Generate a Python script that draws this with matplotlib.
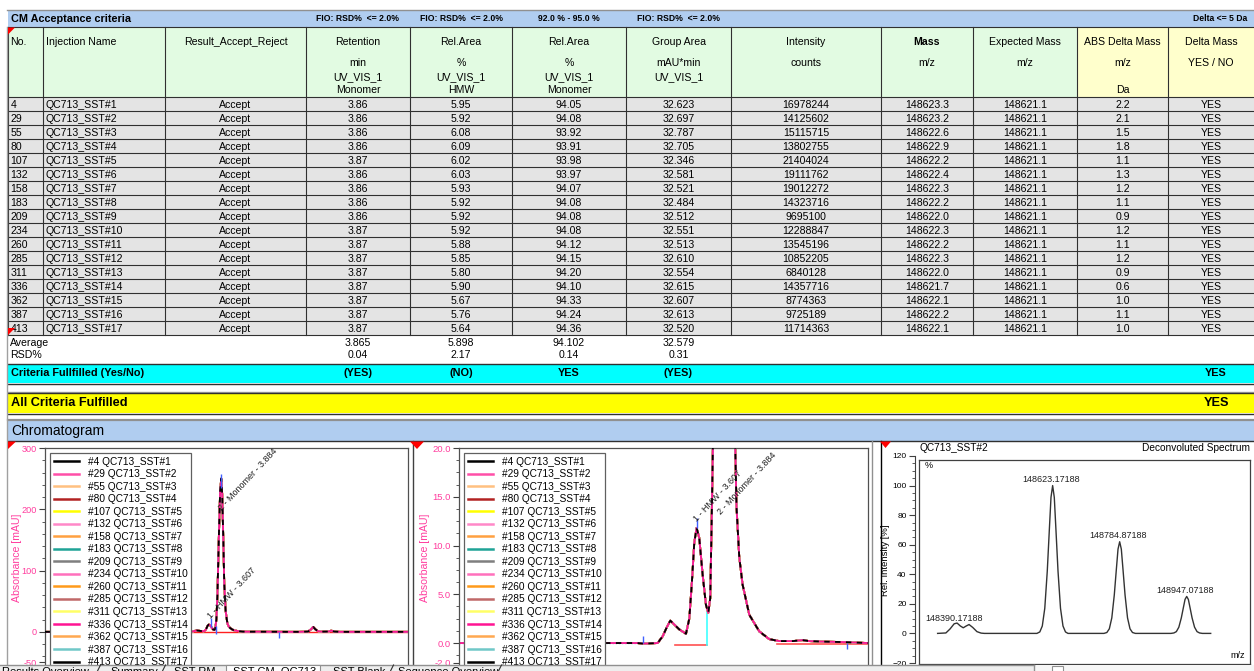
import matplotlib
matplotlib.use("Agg")
import matplotlib.pyplot as plt
from matplotlib.patches import Rectangle, Polygon
from matplotlib.lines import Line2D
from matplotlib.ticker import MultipleLocator, FixedLocator, FormatStrFormatter

plt.rcParams['font.family'] = ['Liberation Sans', 'DejaVu Sans']

# ----------------------------------------------------------------- data
inj_no = [4, 29, 55, 80, 107, 132, 158, 183, 209, 234, 260, 285, 311, 336, 362, 387, 413]
inj_name = ['QC713_SST#%d' % k for k in range(1, 18)]
result = ['Accept'] * 17
retention = [3.86, 3.86, 3.86, 3.86, 3.87, 3.86, 3.86, 3.86, 3.86, 3.87, 3.87, 3.87, 3.87, 3.87, 3.87, 3.87, 3.87]
rel_hmw = [5.95, 5.92, 6.08, 6.09, 6.02, 6.03, 5.93, 5.92, 5.92, 5.92, 5.88, 5.85, 5.80, 5.90, 5.67, 5.76, 5.64]
rel_mono = [94.05, 94.08, 93.92, 93.91, 93.98, 93.97, 94.07, 94.08, 94.08, 94.08, 94.12, 94.15, 94.20, 94.10, 94.33, 94.24, 94.36]
group_area = [32.623, 32.697, 32.787, 32.705, 32.346, 32.581, 32.521, 32.484, 32.512, 32.551, 32.513, 32.610, 32.554, 32.615, 32.607, 32.613, 32.520]
intensity = [16978244, 14125602, 15115715, 13802755, 21404024, 19111762, 19012272, 14323716, 9695100, 12288847, 13545196, 10852205, 6840128, 14357716, 8774363, 9725189, 11714363]
mass = [148623.3, 148623.2, 148622.6, 148622.9, 148622.2, 148622.4, 148622.3, 148622.2, 148622.0, 148622.3, 148622.2, 148622.3, 148622.0, 148621.7, 148622.1, 148622.2, 148622.1]
expected_mass = [148621.1] * 17
abs_delta = [2.2, 2.1, 1.5, 1.8, 1.1, 1.3, 1.2, 1.1, 0.9, 1.2, 1.1, 1.2, 0.9, 0.6, 1.0, 1.1, 1.0]
delta_ok = ['YES'] * 17

avg_vals = ['3.865', '5.898', '94.102', '32.579']
rsd_vals = ['0.04', '2.17', '0.14', '0.31']
crit_vals = ['(YES)', '(NO)', 'YES', '(YES)']
criteria_labels = ['FIO: RSD%  <= 2.0%', 'FIO: RSD%  <= 2.0%', '92.0 % - 95.0 %', 'FIO: RSD%  <= 2.0%']

header_lines = [
    ['No.'], ['Injection Name'], ['Result_Accept_Reject'],
    ['Retention', 'min', 'UV_VIS_1', 'Monomer'],
    ['Rel.Area', '%', 'UV_VIS_1', 'HMW'],
    ['Rel.Area', '%', 'UV_VIS_1', 'Monomer'],
    ['Group Area', 'mAU*min', 'UV_VIS_1'],
    ['Intensity', 'counts'],
    ['Mass', 'm/z'],
    ['Expected Mass', 'm/z'],
    ['ABS Delta Mass', 'm/z', '', 'Da'],
    ['Delta Mass', 'YES / NO'],
]

chrom_time = [0.00, 1.00, 2.00, 3.00, 3.05, 3.10, 3.21, 3.262, 3.303, 3.340, 3.381, 3.432, 3.501,
              3.535, 3.562, 3.586, 3.610, 3.637, 3.672, 3.706, 3.730, 3.750, 3.767, 3.777, 3.800,
              3.830, 3.860, 3.884, 3.905, 3.930, 3.950, 3.980, 4.007, 4.020, 4.048, 4.082, 4.151,
              4.253, 4.356, 4.458, 4.600, 4.696, 4.766, 4.900, 5.105, 5.370, 5.60, 5.80, 5.86,
              5.91, 5.96, 6.02, 6.10, 6.25, 6.31, 6.37, 6.50, 7.00, 8.00]
chrom_abs = [0.0, 0.0, 0.0, 0.0, -0.05, -0.05, 0.0, 0.7, 1.6, 2.3, 1.9, 1.4, 0.95,
             2.5, 6.3, 10.3, 11.8, 10.8, 7.0, 3.9, 3.1, 4.6, 13.9, 20.0, 60.0,
             150.0, 230.0, 250.0, 225.0, 150.0, 80.0, 35.0, 20.0, 13.9, 8.8, 6.0, 2.9,
             1.2, 0.4, 0.2, 0.2, 0.3, 0.2, 0.15, 0.1, 0.0, 0.0, 0.5, 4.0,
             8.0, 4.0, 1.0, 0.3, 0.5, 2.0, 0.5, 0.0, 0.0, 0.0]
trace_colors = ['#000000', '#ff4fa8', '#ffc080', '#b22222', '#ffff00', '#ff88c8', '#ffa040',
                '#1fa396', '#7f7f7f', '#ff70bc', '#ff9a1a', '#c06868', '#ffff66', '#ff1493',
                '#ffa850', '#70c8c8', '#000000']
legend_labels = ['#%d %s' % (n, s) for n, s in zip(inj_no, inj_name)]
peak_names = ['1 - HMW - 3.607', '2 - Monomer - 3.884']
peak_label_left = [(3.70, 19.0), (3.94, 195.0)]
peak_label_mid = [(3.63, 12.3), (3.875, 13.0)]
marker_left_t = [3.65, 3.76, 3.88, 5.15]
marker_left_lo = [8, -3, 235, -10]
marker_left_hi = [23, 9, 258, 0]
marker_mid_t = [3.059, 3.61, 5.153]
marker_mid_lo = [0.0, 11.8, -0.6]
marker_mid_hi = [0.7, 12.8, 0.0]

# deconvoluted spectrum
spec_mz = [148345, 148365, 148375, 148385, 148392, 148400, 148407, 148414, 148421, 148430, 148440, 148450, 148458,
           148585, 148592, 148598, 148604, 148610, 148615, 148619, 148623, 148627, 148631, 148636, 148642, 148648, 148654, 148660,
           148747, 148754, 148760, 148766, 148772, 148777, 148781, 148785, 148789, 148793, 148798, 148804, 148810, 148816, 148823,
           148909, 148916, 148922, 148928, 148934, 148939, 148943, 148947, 148951, 148955, 148960, 148966, 148972, 148978, 148985,
           149005]
spec_int = [0, 0.3, 3, 6.5, 7, 5, 3.8, 5, 6, 4, 1.2, 0.2, 0,
            0, 1, 5, 17, 42, 70, 92, 100, 92, 70, 42, 17, 5, 1, 0,
            0, 0.6, 3.1, 10.5, 26, 43.4, 57, 62, 57, 43.4, 26, 10.5, 3.1, 0.6, 0,
            0, 0.3, 1.2, 4.2, 10.5, 17.5, 23, 25, 23, 17.5, 10.5, 4.2, 1.2, 0.3, 0,
            0]
spec_labels = ['148390.17188', '148623.17188', '148784.87188', '148947.07188']
spec_label_mz = [148385, 148619, 148780, 148943]
spec_label_y = [10.4, 103.8, 65.9, 28.7]

tab_names = ['Results Overview', 'Summary', 'SST RM', 'SST CM_QC713', 'SST Blank', 'Sequence Overview']

# ----------------------------------------------------------------- figure
W, H = 1254, 671
fig = plt.figure(figsize=(W / 100, H / 100), dpi=100)
fig.patch.set_facecolor('white')


def rect(x0, y0, x1, y1):
    return [x0 / W, 1 - y1 / H, (x1 - x0) / W, (y1 - y0) / H]


bg = fig.add_axes([0, 0, 1, 1], zorder=0)
bg.set_xlim(0, W); bg.set_ylim(H, 0); bg.axis('off')
fg = fig.add_axes([0, 0, 1, 1], zorder=20)
fg.set_xlim(0, W); fg.set_ylim(H, 0); fg.axis('off')

BLUE = '#b0cdf0'
LINE = '#303030'
TFS = 7.6
cols = [8, 43, 165, 306, 410, 512, 626, 731, 881, 973, 1077, 1168, 1254]
cx = [(cols[i] + cols[i + 1]) / 2 for i in range(12)]

# top band
bg.plot([7, W], [9.5, 9.5], color='#909090', lw=1)
bg.add_patch(Rectangle((8, 10), W - 8, 17, fc=BLUE, ec='none'))
bg.text(11, 18.5, 'CM Acceptance criteria', fontsize=7.8, fontweight='bold', va='center')
for i, lab in zip([3, 4, 5, 6], criteria_labels):
    bg.text(cx[i], 18.5, lab, fontsize=6.2, fontweight='bold', ha='center', va='center')
bg.text(1247, 18.5, 'Delta <= 5 Da', fontsize=6.2, fontweight='bold', ha='right', va='center')

# header cells
for i in range(12):
    fc = '#ffffcc' if i >= 10 else '#e2fbe2'
    bg.add_patch(Rectangle((cols[i], 27), cols[i + 1] - cols[i], 70, fc=fc, ec='none'))
head_y = [42, 63, 77, 90]
for i, lines in enumerate(header_lines):
    for j, t in enumerate(lines):
        if i < 2:
            bg.text(cols[i] + 2.5, head_y[j], t, fontsize=TFS, va='center', ha='left')
        else:
            w = 'bold' if (i == 8 and j == 0) else 'normal'
            bg.text(cx[i], head_y[j], t, fontsize=TFS, va='center', ha='center', fontweight=w)

# data rows
bg.add_patch(Rectangle((8, 97), W - 8, 17 * 14, fc='#e4e4e4', ec='none'))
for k in range(17):
    y = 97 + 14 * k + 7.5
    vals = [str(inj_no[k]), inj_name[k], result[k], '%.2f' % retention[k], '%.2f' % rel_hmw[k],
            '%.2f' % rel_mono[k], '%.3f' % group_area[k], '%d' % intensity[k], '%.1f' % mass[k],
            '%.1f' % expected_mass[k], '%.1f' % abs_delta[k], delta_ok[k]]
    for i, v in enumerate(vals):
        if i < 2:
            bg.text(cols[i] + 2.5, y, v, fontsize=TFS, va='center', ha='left')
        else:
            bg.text(cx[i], y, v, fontsize=TFS, va='center', ha='center')
for y in [27] + [97 + 14 * k for k in range(18)]:
    bg.plot([8, W], [y, y], color=LINE, lw=0.8)
for x in cols[:-1]:
    bg.plot([x, x], [27, 335], color=LINE, lw=0.8)

# average / rsd
bg.text(10, 342.5, 'Average', fontsize=TFS, va='center')
bg.text(10, 355.5, 'RSD%', fontsize=TFS, va='center')
for i, a, r in zip([3, 4, 5, 6], avg_vals, rsd_vals):
    bg.text(cx[i], 342.5, a, fontsize=TFS, va='center', ha='center')
    bg.text(cx[i], 355.5, r, fontsize=TFS, va='center', ha='center')

# criteria band
bg.add_patch(Rectangle((8, 364), W - 8, 19, fc='#00ffff', ec='none'))
bg.plot([8, W], [363.5, 363.5], color=LINE, lw=1)
bg.plot([8, W], [383.5, 383.5], color=LINE, lw=1)
bg.text(11, 373.5, 'Criteria Fullfilled (Yes/No)', fontsize=7.8, fontweight='bold', va='center')
for i, v in zip([3, 4, 5, 6], crit_vals):
    bg.text(cx[i], 373.5, v, fontsize=7.8, fontweight='bold', va='center', ha='center')
bg.text(1216, 373.5, 'YES', fontsize=7.8, fontweight='bold', va='center', ha='center')

# all criteria band
bg.plot([8, W], [391.5, 391.5], color='#a0a0a0', lw=1)
bg.add_patch(Rectangle((8, 393), W - 8, 20, fc='#ffff00', ec='none'))
bg.plot([8, W], [392.5, 392.5], color=LINE, lw=1)
bg.plot([8, W], [413.5, 413.5], color=LINE, lw=1)
bg.text(11, 403.5, 'All Criteria Fulfilled', fontsize=9.2, fontweight='bold', va='center')
bg.text(1216, 403.5, 'YES', fontsize=9.2, fontweight='bold', va='center', ha='center')

# chromatogram band
bg.plot([8, W], [419.5, 419.5], color='#909090', lw=1.6)
bg.add_patch(Rectangle((8, 420.5), W - 8, 20, fc=BLUE, ec='none'))
bg.plot([8, W], [441, 441], color=LINE, lw=1)
bg.text(11, 431, 'Chromatogram', fontsize=10, va='center')

# panel borders
bg.plot([7, 7], [27, 664], color='#a0a0a0', lw=1)
bg.plot([412.5, 412.5], [441, 664], color='#404040', lw=1)
bg.plot([871.5, 871.5], [441, 664], color='#909090', lw=1)
bg.plot([880.5, 880.5], [441, 664], color='#000000', lw=1)

PINK = '#ff3d9e'


def chrom_axes(rpx, ylim, yticks, fmt, minor, lsize, label_x, peak_pos):
    ax = fig.add_axes(rect(*rpx), zorder=5)
    order = list(range(13)) + [14, 15, 13]
    for i in order:
        ax.plot(chrom_time, chrom_abs, color=trace_colors[i], lw=1.3, zorder=2)
    ax.plot(chrom_time, chrom_abs, color=trace_colors[16], lw=1.3, ls=(0, (3, 3)), zorder=3)
    ax.set_ylim(*ylim)
    ax.yaxis.set_major_locator(FixedLocator(yticks))
    ax.yaxis.set_major_formatter(FormatStrFormatter(fmt))
    ax.yaxis.set_minor_locator(MultipleLocator(minor))
    ax.set_xticks([])
    ax.tick_params(axis='y', which='major', direction='out', length=4, width=0.8, color='#404040',
                   labelcolor=PINK, labelsize=lsize, pad=2)
    ax.tick_params(axis='y', which='minor', direction='out', length=2, width=0.6, color='#404040')
    for s in ax.spines.values():
        s.set_color('#505050'); s.set_linewidth(0.9)
    ax.set_ylabel('Absorbance [mAU]', color=PINK, fontsize=7.6)
    ax.yaxis.set_label_coords(label_x, 0.5)
    for (t, a), name in zip(peak_pos, peak_names):
        ax.text(t, a, name, fontsize=6.5, color='#202020', rotation=47, rotation_mode='anchor',
                ha='left', va='bottom', zorder=6)
    handles = [Line2D([], [], color=c, lw=1.8) for c in trace_colors]
    leg = ax.legend(handles, legend_labels, loc='upper left',
                    bbox_to_anchor=((rpx[0] + 5) / W, 1 - 453 / H), bbox_transform=fig.transFigure,
                    fontsize=7.3, frameon=True, fancybox=False, edgecolor='#606060', framealpha=1,
                    borderpad=0.35, borderaxespad=0, labelspacing=0.25, handlelength=2.5,
                    handletextpad=0.9)
    leg.get_frame().set_linewidth(0.9)
    leg.set_zorder(10)
    return ax


ax1 = chrom_axes((45, 448, 408, 668), (-59, 300), [-50, 0, 100, 200, 300], '%d', 20, 6.6,
                 -0.064, peak_label_left)
ax1.set_xlim(0, 8)
ax1.plot([3.19, 8.0], [0, 0], color='#ff2020', lw=1.0, zorder=1.5)
ax1.vlines(marker_left_t, marker_left_lo, marker_left_hi, color='#4060ff', lw=1.0, zorder=4)

ax2 = chrom_axes((459, 448, 868, 668), (-2.56, 20.0), [-2, 0, 5, 10, 15, 20], '%.1f', 1.25, 6.8,
                 -0.071, peak_label_mid)
ax2.set_xlim(1.17, 5.37)
ax2.plot([1.17, 3.06], [0, 0], color='#20a0a0', lw=0.9, ls=(0, (1, 1.5)), zorder=1.5)
ax2.plot([3.388, 3.716], [-0.2, -0.2], color='#ff5050', lw=1.2, zorder=1.5)
ax2.plot([3.716, 3.716], [-0.2, 3.2], color='#40ffff', lw=1.2, zorder=1.5)
ax2.plot([4.435, 5.37], [-0.1, -0.1], color='#ff5050', lw=1.2, zorder=1.5)
ax2.vlines(marker_mid_t, marker_mid_lo, marker_mid_hi, color='#4060ff', lw=1.0, zorder=4)

# spectrum
ax3 = fig.add_axes(rect(919, 460, 1250, 664), zorder=5)
ax3.plot(spec_mz, spec_int, color='#333333', lw=1.0)
ax3.set_xlim(148300, 149100)
ax3.set_ylim(-20.7, 117.3)
ax3.set_xticks([]); ax3.set_yticks([])
for s in ax3.spines.values():
    s.set_color('#404040'); s.set_linewidth(0.9)
for lab, x, y in zip(spec_labels, spec_label_mz, spec_label_y):
    ax3.text(x, y, lab, ha='center', va='center', fontsize=6.5, color='#202020')
ax3.text(0.018, 0.975, '%', transform=ax3.transAxes, ha='left', va='center', fontsize=6.5)
ax3.text(0.985, 0.04, 'm/z', transform=ax3.transAxes, ha='right', va='center', fontsize=6.5)

ax3y = fig.add_axes(rect(915, 456, 916, 663), zorder=5)
ax3y.set_ylim(-20, 120)
ax3y.set_xticks([])
ax3y.yaxis.set_major_locator(MultipleLocator(20))
ax3y.yaxis.set_minor_locator(MultipleLocator(5))
ax3y.tick_params(axis='y', which='major', direction='out', length=4, width=0.8, color='#404040',
                 labelsize=6, pad=2)
ax3y.tick_params(axis='y', which='minor', direction='out', length=2, width=0.6, color='#404040')
for k in ['top', 'right', 'bottom']:
    ax3y.spines[k].set_visible(False)
ax3y.spines['left'].set_color('#404040')
ax3y.patch.set_visible(False)

fg.text(886, 560, 'Rel. Intensity [%]', rotation=90, ha='center', va='center', fontsize=6.8)
fg.text(919, 448, 'QC713_SST#2', ha='left', va='center', fontsize=7.3)
fg.text(1250, 448, 'Deconvoluted Spectrum', ha='right', va='center', fontsize=7.3)

# red corner marks
RED = '#ff0000'
for pts in [[(8, 27.5), (15, 27.5), (8, 34.5)], [(8, 328), (15, 328), (8, 335)],
            [(8, 441.5), (16, 441.5), (8, 449)], [(410, 441.5), (424, 441.5), (417, 449)],
            [(880, 441.5), (891, 441.5), (885.5, 448)]]:
    fg.add_patch(Polygon(pts, closed=True, fc=RED, ec='none'))

# tab bar (tab captions are cut by the window edge, as in the screenshot)
fg.add_patch(Rectangle((0, 664.5), 1034, 8, fc='#eeeeee', ec='none', zorder=1))
fg.plot([0, 1034], [664.5, 664.5], color='#909090', lw=1, zorder=2)
fg.add_patch(Rectangle((226, 664.5), 94, 8, fc='white', ec='#909090', lw=0.8, zorder=2))
fg.add_patch(Rectangle((1034, 664.5), W - 1034, 8, fc='#f6f6f6', ec='none', zorder=1))
fg.plot([1034, 1034], [664.5, 671], color='#909090', lw=1, zorder=2)
fg.add_patch(Rectangle((1052, 665.5), 11, 7, fc='white', ec='#909090', lw=0.8, zorder=2))
for name, x in zip(tab_names, [2, 110, 174, 233, 333, 398]):
    fg.text(x, 667.0, name, fontsize=8, va='top', ha='left', zorder=3)
for x in [99, 164, 392, 500]:
    fg.plot([x - 1.5, x + 1.5], [671, 665], color='#303030', lw=0.8, zorder=3)

fig.savefig('out.png', dpi=100)
